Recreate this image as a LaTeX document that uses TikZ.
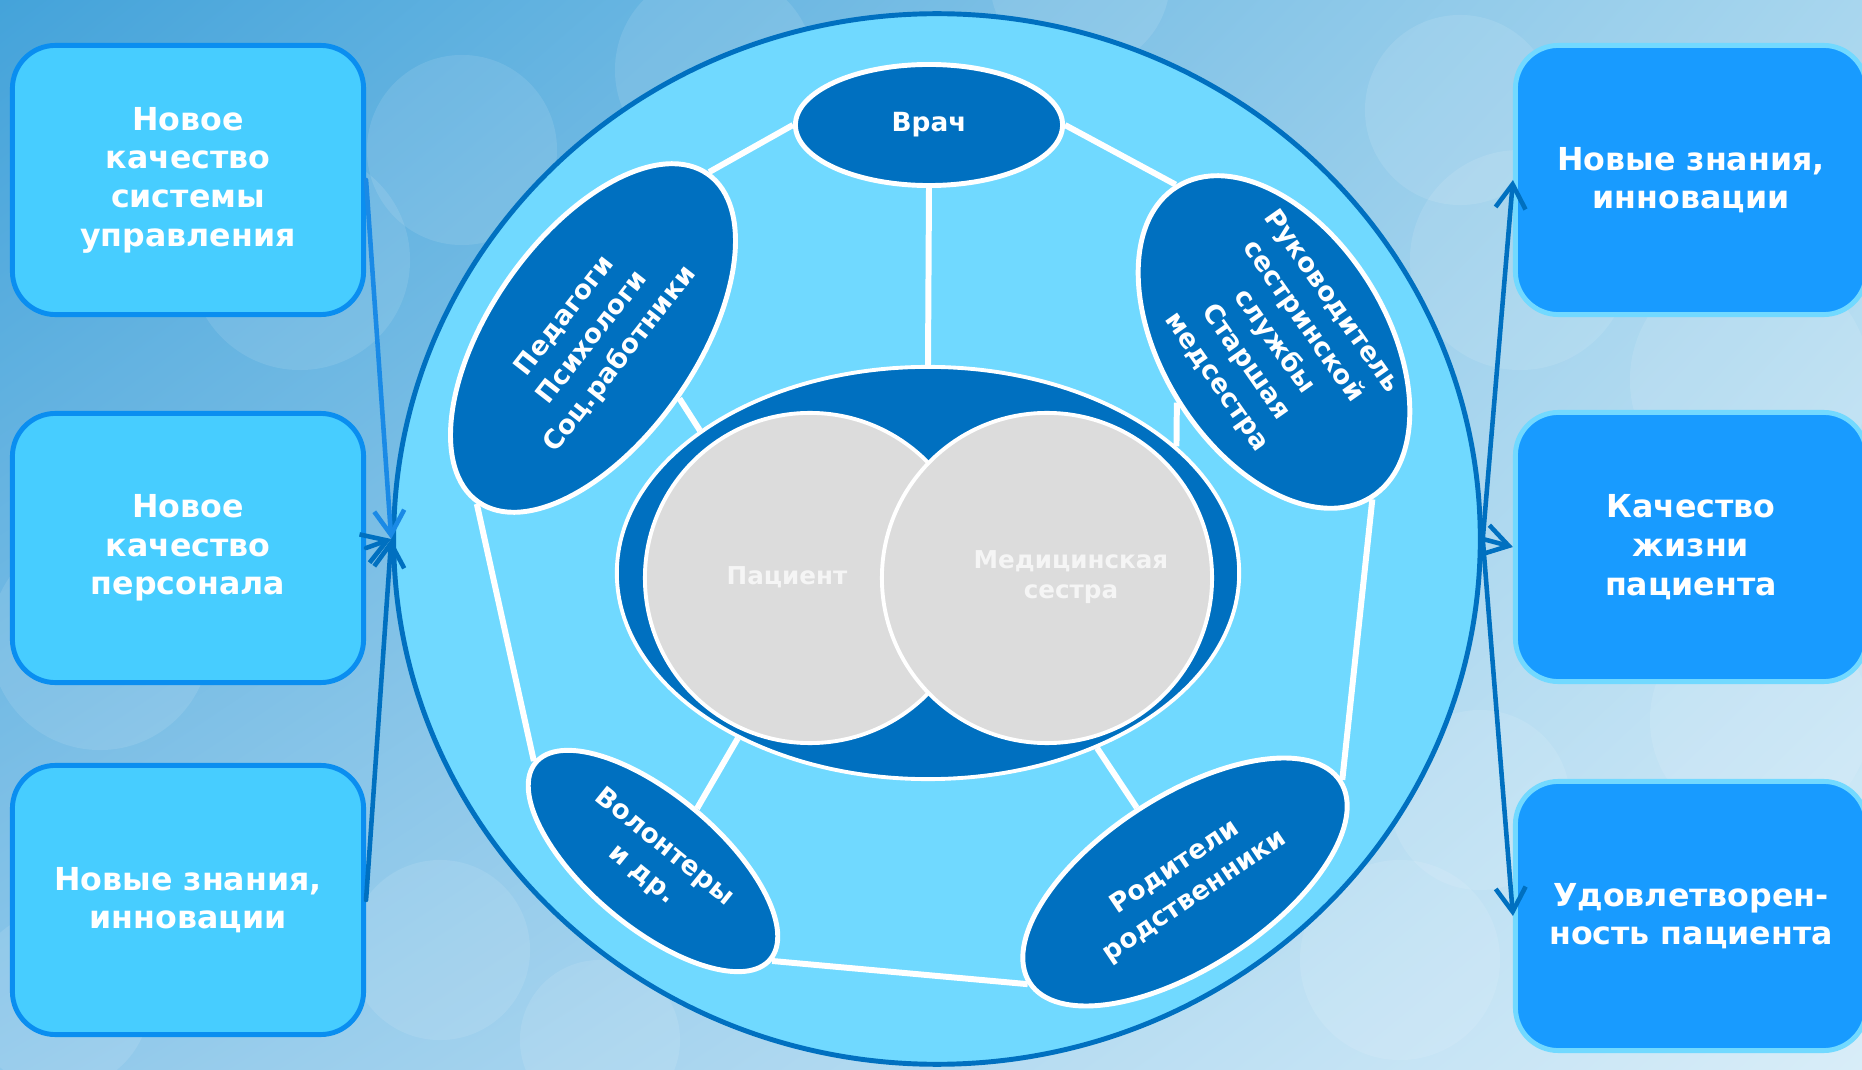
\documentclass[tikz,border=0pt]{standalone}
\usepackage{fontspec}
\setmainfont{DejaVu Sans}
\usepackage{xcolor}
\usetikzlibrary{shapes.geometric,arrows.meta,shadings}

\definecolor{darkblue}{HTML}{0070C0}
\definecolor{ringfill}{HTML}{70D9FF}
\definecolor{boxfill}{HTML}{47CDFF}
\definecolor{boxline}{HTML}{0A8EF0}
\definecolor{rboxfill}{HTML}{189BFF}
\definecolor{rboxline}{HTML}{72D9FF}
\definecolor{coregray}{HTML}{DCDCDC}
\definecolor{arrowlight}{HTML}{1A8AE6}
\definecolor{bgA}{HTML}{44A3DA}
\definecolor{bgB}{HTML}{A8D6EE}
\definecolor{bgC}{HTML}{8FC8EA}
\definecolor{bgD}{HTML}{D8EDF8}

\newcommand\boxfont{\fontsize{9}{11}\selectfont\bfseries}
\newcommand\rolefont{\fontsize{7.5}{10}\selectfont\bfseries}
\newcommand\corefont{\fontsize{7}{8.4}\selectfont\bfseries}

\tikzset{
    inbox/.style={draw=boxline, fill=boxfill, line width=1.4pt, rounded corners=0.43cm,
        minimum width=3.51cm, minimum height=2.69cm, text=white, font=\boxfont, align=center},
    outbox/.style={inbox, draw=rboxline, fill=rboxfill},
    role/.style={ellipse, draw=white, fill=darkblue, line width=1.4pt, inner sep=0pt},
    roletext/.style={text=white, font=\rolefont, align=center, inner sep=0pt},
    core/.style={circle, draw=white, fill=coregray, line width=1.1pt, minimum size=3.3cm, inner sep=0pt},
    coretext/.style={text=white!96!black, font=\corefont, align=center, inner sep=0pt},
    link/.style={white, line width=1.7pt},
    flow/.style={darkblue, line width=1.3pt, line cap=round, -{Straight Barb[length=2.4mm,width=3mm]}}
}

\begin{document}
\begin{tikzpicture}[x=0.01cm, y=-0.01cm]
    \useasboundingbox (0,0) rectangle (1862,1070);
    \clip (0,0) rectangle (1862,1070);

    % background with soft bubbles
    \shade[upper left=bgA, upper right=bgB, lower left=bgC, lower right=bgD] (0,0) rectangle (1862,1070);
    \foreach \x/\y/\r in {462/150/0.95cm, 715/70/1.0cm, 300/260/1.1cm, 1460/110/0.95cm,
            1520/260/1.1cm, 1750/380/1.2cm, 1480/800/0.9cm, 1400/960/1.0cm, 1760/720/1.1cm,
            100/640/1.1cm, 440/950/0.9cm, 60/1000/0.9cm, 600/1040/0.8cm, 1080/-20/0.9cm}
        \fill[white, opacity=0.1] (\x,\y) circle[radius=\r];

    % left and right boxes
    \node[inbox] (mgmt) at (188,180) {Новое\\качество\\системы\\управления};
    \node[inbox] (staff) at (188,548) {Новое\\качество\\персонала};
    \node[inbox] (knowL) at (188,900) {Новые знания,\\инновации};

    \node[outbox] (knowR) at (1691,180) {Новые знания,\\инновации};
    \node[outbox] (life) at (1691,547) {Качество\\жизни\\пациента};
    \node[outbox] (satisf) at (1691,916) {Удовлетворен-\\ность пациента};

    % big circle
    \node[ellipse, draw=darkblue, fill=ringfill, line width=1.4pt, inner sep=0pt,
        minimum width=10.86cm, minimum height=10.5cm] (team) at (937,539) {};

    \draw[flow, arrowlight] (mgmt.east) -- (team.west);
    \draw[flow] (staff.east) -- (team.west);
    \draw[flow] (knowL.east) -- (team.west);
    \draw[flow] (team.east) -- (knowR.west);
    \draw[flow] (team.east) -- (life.west);
    \draw[flow] (team.east) -- (satisf.west);

    % team members
    \node[role, minimum width=2.67cm, minimum height=1.21cm] (doctor) at (929,125) {};
    \node[role, rotate=55, minimum width=4.0cm, minimum height=2.06cm] (ped) at (593,338) {};
    \node[role, rotate=-58, minimum width=3.66cm, minimum height=2.24cm] (rukov) at (1274,342) {};
    \node[role, rotate=-40, minimum width=3.06cm, minimum height=1.32cm] (vol) at (653,861) {};
    \node[role, rotate=33, minimum width=3.7cm, minimum height=1.72cm] (rod) at (1185,882) {};

    \node[roletext] (doctortxt) at (doctor) {Врач};
    \node[roletext, rotate=52] (pedtxt) at (ped) {Педагоги\\Психологи\\Соц.работники};
    \node[roletext, rotate=-55] (rukovtxt) at (rukov) {Руководитель\\сестринской\\службы\\Старшая\\медсестра};
    \node[roletext, rotate=-39] (voltxt) at (vol) {Волонтеры\\и др.};
    \node[roletext, rotate=34] (rodtxt) at (rod) {Родители\\родственники};

    % core
    \node[ellipse, draw=white, fill=darkblue, line width=1.1pt, inner sep=0pt,
        minimum width=6.22cm, minimum height=4.12cm] (inner) at (928,573) {};
    \node[core] (patient) at (810,578) {};
    \node[core] (nurse) at (1047,578) {};
    \node[coretext] (patienttxt) at (787,577) {Пациент};
    \node[coretext] (nursetxt) at (1071,577) {Медицинская\\сестра};

    % links
    \draw[link] (doctor.south) -- (inner.north);
    \draw[link] (ped.south) -- (inner.148);
    \draw[link] (rukov.south) -- (inner.27);
    \draw[link] (vol.north) -- (inner.221);
    \draw[link] (rod.north) -- (inner.314);

    \draw[link] (doctor.west) -- (ped.east);
    \draw[link] (doctor.east) -- (rukov.west);
    \draw[link] (ped.west) -- (vol.west);
    \draw[link] (vol.east) -- (rod.west);
    \draw[link] (rod.east) -- (rukov.east);
\end{tikzpicture}
\end{document}
